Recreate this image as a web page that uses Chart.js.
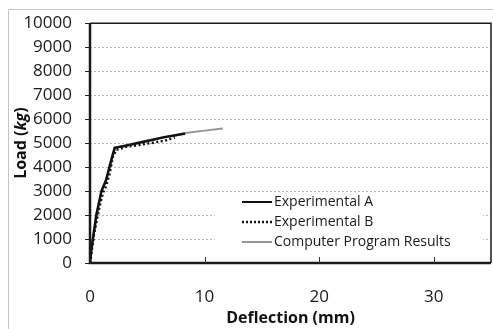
<!DOCTYPE html>
<html lang="en">
<head>
<meta charset="UTF-8">
<title>Load vs Deflection</title>
<style>
  body { margin: 0; background: #fff; }
  #wrap { position: relative; width: 493px; height: 329px; }
</style>
</head>
<body>
<div id="wrap">
  <canvas id="myChart"></canvas>
</div>

<script src="https://cdn.jsdelivr.net/npm/chart.js"></script>
<script>
  // deflection (mm) / load (kg)
  const deflA = [0, 0.1, 0.25, 0.55, 1.0, 1.4, 1.8, 2.15, 3.0, 4.0, 5.3, 6.5, 7.5, 8.3];
  const loadA = [0, 500, 1000, 2000, 3000, 3450, 4200, 4800, 4880, 4980, 5120, 5250, 5330, 5400];

  const deflB = [0, 0.1, 0.2, 0.35, 0.6, 0.85, 1.15, 1.4, 1.7, 2.0, 2.3, 3.2, 4.0, 5.3, 6.5, 7.4];
  const loadB = [0, 300, 700, 1200, 1800, 2400, 2950, 3200, 3700, 4450, 4720, 4850, 4900, 5000, 5100, 5230];

  const deflC = [0, 0.25, 0.6, 1.0, 1.5, 2.2, 4.0, 6.0, 8.5, 10.0, 11.6];
  const loadC = [0, 1000, 2000, 3000, 3600, 4800, 5000, 5200, 5430, 5520, 5610];

  const seriesNames = ["Experimental A", "Experimental B", "Computer Program Results"];
  const xTickValues = [0, 10, 20, 30];

  function toPoints(xs, ys) {
    let pts = [];
    for (let i = 0; i < xs.length; i++) {
      pts.push({ x: xs[i], y: ys[i] });
    }
    return pts;
  }

  const FONT = "'Open Sans', sans-serif";

  const datasets = [
    { label: seriesNames[2], data: toPoints(deflC, loadC), borderColor: '#969696', borderWidth: 2, order: 3 },
    { label: seriesNames[0], data: toPoints(deflA, loadA), borderColor: '#111', borderWidth: 2.5, order: 2 },
    { label: seriesNames[1], data: toPoints(deflB, loadB), borderColor: '#111', borderWidth: 2.5, borderDash: [2, 2.5], order: 1 }
  ];

  // frame, gridlines, inner x ticks, axis titles, legend box
  const extras = {
    id: 'extras',
    beforeDatasetsDraw(chart) {
      const c = chart.ctx;
      const a = chart.chartArea;
      const ys = chart.scales.y;
      c.save();
      c.strokeStyle = '#b5b5b5';
      c.lineWidth = 1;
      c.setLineDash([2, 2]);
      for (let v = 1000; v < 10000; v += 1000) {
        const py = Math.round(ys.getPixelForValue(v)) + 0.5;
        c.beginPath();
        c.moveTo(a.left, py);
        c.lineTo(a.right, py);
        c.stroke();
      }
      c.restore();
    },
    afterDraw(chart) {
      const c = chart.ctx;
      const a = chart.chartArea;
      const xs = chart.scales.x;

      c.save();
      // outer picture frame
      c.strokeStyle = '#c4c4c4';
      c.lineWidth = 1;
      c.beginPath();
      c.moveTo(8.5, 329);
      c.lineTo(8.5, 9.5);
      c.lineTo(493, 9.5);
      c.stroke();

      // plot frame
      c.strokeStyle = '#1a1a1a';
      c.lineWidth = 1.5;
      c.beginPath();
      c.moveTo(a.left, a.top);
      c.lineTo(a.right, a.top);
      c.lineTo(a.right, a.bottom);
      c.stroke();
      c.lineWidth = 2.5;
      c.beginPath();
      c.moveTo(a.left, a.top);
      c.lineTo(a.left, a.bottom);
      c.lineTo(a.right, a.bottom);
      c.stroke();

      // inner x tick marks
      c.lineWidth = 1;
      c.strokeStyle = '#333';
      for (let i = 1; i < xTickValues.length; i++) {
        const px = Math.round(xs.getPixelForValue(xTickValues[i])) + 0.5;
        c.beginPath();
        c.moveTo(px, a.bottom);
        c.lineTo(px, a.bottom - 6);
        c.stroke();
      }

      // x title
      c.fillStyle = '#111';
      c.font = 'bold 16px ' + FONT;
      c.textAlign = 'center';
      c.textBaseline = 'middle';
      c.fillText('Deflection (mm)', (a.left + a.right) / 2, 318);

      // y title with italic unit
      const parts = [['Load (', 'bold 16px '], ['kg', 'italic bold 16px '], [')', 'bold 16px ']];
      let total = 0;
      for (const p of parts) { c.font = p[1] + FONT; total += c.measureText(p[0]).width; }
      c.translate(21, (a.top + a.bottom) / 2);
      c.rotate(-Math.PI / 2);
      c.textAlign = 'left';
      let x0 = -total / 2;
      for (const p of parts) {
        c.font = p[1] + FONT;
        c.fillText(p[0], x0, 0);
        x0 += c.measureText(p[0]).width;
      }
      c.restore();

      // legend inside plot
      c.save();
      c.fillStyle = '#fff';
      c.fillRect(215, 194, 268, 62);
      const rows = [
        { y: 202, color: '#111', w: 2, dash: [] },
        { y: 222, color: '#111', w: 2.5, dash: [2, 2] },
        { y: 242, color: '#969696', w: 2, dash: [] }
      ];
      c.font = '14px ' + FONT;
      c.textBaseline = 'middle';
      c.textAlign = 'left';
      for (let i = 0; i < rows.length; i++) {
        const r = rows[i];
        c.strokeStyle = r.color;
        c.lineWidth = r.w;
        c.setLineDash(r.dash);
        c.beginPath();
        c.moveTo(242, r.y);
        c.lineTo(272, r.y);
        c.stroke();
        c.setLineDash([]);
        c.fillStyle = '#1a1a1a';
        c.fillText(seriesNames[i], 274, r.y);
      }
      c.restore();
    }
  };

  const ctx = document.getElementById('myChart');

  let v_chart = new Chart(ctx, {
    type: 'line',
    data: { datasets: datasets },
    options: {
      responsive: true,
      maintainAspectRatio: false,
      animation: false,
      layout: { padding: { top: 20, right: 2, left: 0, bottom: 0 } },
      elements: {
        point: { radius: 0 },
        line: { tension: 0, fill: false, borderCapStyle: 'butt' }
      },
      plugins: {
        legend: { display: false },
        tooltip: { enabled: false }
      },
      scales: {
        x: {
          type: 'linear',
          min: 0,
          max: 35,
          afterFit(s) { s.height = 66; },
          afterBuildTicks(s) {
            s.ticks = xTickValues.map(v => ({ value: v }));
          },
          grid: { display: false },
          border: { display: false },
          ticks: {
            padding: 16,
            color: '#1a1a1a',
            font: { family: FONT, size: 17 },
            callback: (v) => String(v)
          }
        },
        y: {
          min: 0,
          max: 10000,
          afterFit(s) { s.width = 90; },
          border: { display: false },
          grid: {
            drawOnChartArea: false,
            tickColor: '#222',
            tickLength: 5
          },
          ticks: {
            stepSize: 1000,
            padding: 13,
            color: '#1a1a1a',
            font: { family: FONT, size: 17 },
            callback: (v) => String(v)
          }
        }
      }
    },
    plugins: [extras]
  });
</script>
</body>
</html>
